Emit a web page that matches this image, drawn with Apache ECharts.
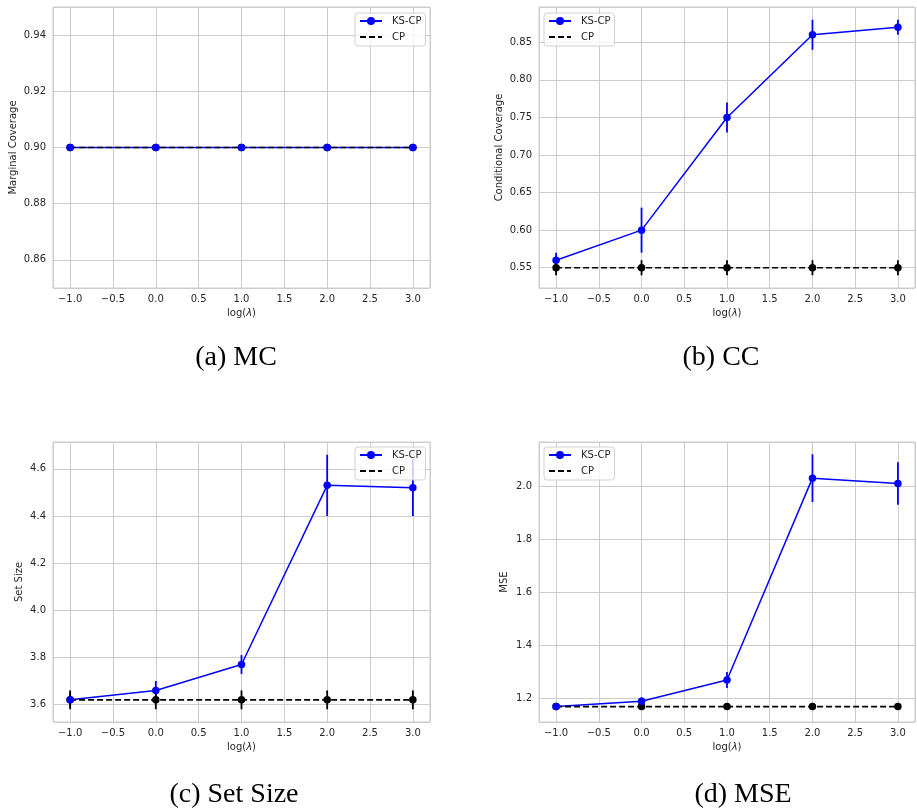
<!DOCTYPE html>
<html>
<head>
<meta charset="utf-8">
<script src="https://cdn.jsdelivr.net/npm/echarts@6/dist/echarts.min.js"></script>
<style>
html, body { margin: 0; padding: 0; background: #ffffff; }
#chart { width: 917px; height: 809px; }
</style>
</head>
<body>
<div id="chart"></div>
<script>
// ---- data ----
const lambdas = [-1, 0, 1, 2, 3];

const mcKs = [0.90, 0.90, 0.90, 0.90, 0.90];
const mcKsErr = [0, 0, 0, 0, 0];
const mcCp = [0.90, 0.90, 0.90, 0.90, 0.90];
const mcCpErr = [0, 0, 0, 0, 0];

const ccKs = [0.56, 0.60, 0.75, 0.86, 0.87];
const ccKsErr = [0.01, 0.03, 0.02, 0.02, 0.01];
const ccCp = [0.55, 0.55, 0.55, 0.55, 0.55];
const ccCpErr = [0.01, 0.01, 0.01, 0.01, 0.01];

const ssKs = [3.62, 3.66, 3.77, 4.53, 4.52];
const ssKsErr = [0.03, 0.04, 0.04, 0.13, 0.12];
const ssCp = [3.62, 3.62, 3.62, 3.62, 3.62];
const ssCpErr = [0.04, 0.04, 0.04, 0.04, 0.04];

const mseKs = [1.17, 1.19, 1.27, 2.03, 2.01];
const mseKsErr = [0.005, 0.015, 0.03, 0.09, 0.08];
const mseCp = [1.17, 1.17, 1.17, 1.17, 1.17];
const mseCpErr = [0, 0, 0, 0, 0];

const yNames = ['Marginal Coverage', 'Conditional Coverage', 'Set Size', 'MSE'];
const captions = ['(a) MC', '(b) CC', '(c) Set Size', '(d) MSE'];
const seriesNames = ['KS-CP', 'CP'];

// ---- layout / style ----
const panels = [
  { ks: mcKs, ksErr: mcKsErr, cp: mcCp, cpErr: mcCpErr,
    grid: { left: 53, top: 7, width: 377, height: 281 },
    yMin: 0.85, yMax: 0.95, yStep: 0.02, yDec: 2, nameGap: 35,
    legend: { left: 355, top: 13 }, cap: [236, 358] },
  { ks: ccKs, ksErr: ccKsErr, cp: ccCp, cpErr: ccCpErr,
    grid: { left: 539, top: 7, width: 376, height: 281 },
    yMin: 0.523, yMax: 0.897, yStep: 0.05, yDec: 2, nameGap: 35,
    legend: { left: 544, top: 13 }, cap: [721, 358] },
  { ks: ssKs, ksErr: ssKsErr, cp: ssCp, cpErr: ssCpErr,
    grid: { left: 53, top: 442, width: 377, height: 280 },
    yMin: 3.526, yMax: 4.714, yStep: 0.2, yDec: 1, nameGap: 29,
    legend: { left: 355, top: 447 }, cap: [234, 795] },
  { ks: mseKs, ksErr: mseKsErr, cp: mseCp, cpErr: mseCpErr,
    grid: { left: 539, top: 442, width: 376, height: 280 },
    yMin: 1.112, yMax: 2.166, yStep: 0.2, yDec: 1, nameGap: 30,
    legend: { left: 544, top: 447 }, cap: [743, 795] }
];

const TXT = '#262626';
const GRIDC = '#cccccc';
const BLUE = '#0000ff';
const FONT = 'DejaVu Sans';

function triples(ys, errs) {
  return lambdas.map((x, i) => [x, ys[i], errs[i]]);
}
function fmtMinus(v, d) {
  const s = Math.abs(v).toFixed(d);
  return (v < 0 ? '\u2212' : '') + s;
}
function errSeries(idx, data, color) {
  return {
    type: 'custom', name: 'err' + idx + color, xAxisIndex: idx, yAxisIndex: idx,
    data: data, encode: { x: 0, y: 1 }, silent: true,
    renderItem: function (params, api) {
      const x = api.value(0), y = api.value(1), e = api.value(2);
      if (!e) return null;
      const p1 = api.coord([x, y - e]);
      const p2 = api.coord([x, y + e]);
      return { type: 'line', shape: { x1: p1[0], y1: p1[1], x2: p2[0], y2: p2[1] },
               style: { stroke: color, lineWidth: 1.8 } };
    }
  };
}

const grids = [], xAxes = [], yAxes = [], series = [], legends = [], graphics = [];
panels.forEach((p, i) => {
  grids.push(Object.assign({ show: true, borderColor: GRIDC, borderWidth: 1, containLabel: false }, p.grid));
  xAxes.push({
    type: 'value', gridIndex: i, min: -1.2, max: 3.2, minInterval: 0.5, maxInterval: 0.5,
    axisLine: { show: false }, axisTick: { show: false },
    axisLabel: { color: TXT, fontFamily: FONT, fontSize: 10, margin: 6,
                 showMinLabel: false, showMaxLabel: false,
                 formatter: v => fmtMinus(v, 1) },
    splitLine: { show: true, lineStyle: { color: GRIDC, width: 1 } },
    name: '{a|log(}{b|\u03bb}{a|)}', nameLocation: 'middle', nameGap: 20,
    nameTextStyle: { rich: { a: { color: TXT, fontFamily: FONT, fontSize: 10 },
                             b: { color: TXT, fontFamily: FONT, fontSize: 10, fontStyle: 'italic' } } }
  });
  yAxes.push({
    type: 'value', gridIndex: i, min: p.yMin, max: p.yMax, minInterval: p.yStep, maxInterval: p.yStep,
    axisLine: { show: false }, axisTick: { show: false },
    axisLabel: { color: TXT, fontFamily: FONT, fontSize: 10, margin: 7,
                 showMinLabel: false, showMaxLabel: false,
                 formatter: v => fmtMinus(v, p.yDec) },
    splitLine: { show: true, lineStyle: { color: GRIDC, width: 1 } },
    name: yNames[i], nameLocation: 'middle', nameGap: p.nameGap,
    nameTextStyle: { color: TXT, fontFamily: FONT, fontSize: 10 }
  });
  // KS-CP
  series.push(errSeries(i, triples(p.ks, p.ksErr), BLUE));
  series.push({
    type: 'line', name: seriesNames[0], xAxisIndex: i, yAxisIndex: i,
    data: triples(p.ks, p.ksErr), encode: { x: 0, y: 1 },
    symbol: 'circle', symbolSize: 7.5, showSymbol: true,
    lineStyle: { color: BLUE, width: 1.5 }, itemStyle: { color: BLUE }
  });
  // CP
  series.push({
    type: 'line', name: seriesNames[1], xAxisIndex: i, yAxisIndex: i,
    data: triples(p.cp, p.cpErr), encode: { x: 0, y: 1 },
    symbol: 'none', showSymbol: false,
    lineStyle: { color: '#000000', width: 1.6, type: [6, 3] }, itemStyle: { color: '#000000' }
  });
  series.push(errSeries(i, triples(p.cp, p.cpErr), '#000000'));
  series.push({
    type: 'scatter', name: 'CPpts' + i, xAxisIndex: i, yAxisIndex: i,
    data: triples(p.cp, p.cpErr), encode: { x: 0, y: 1 },
    symbol: 'circle', symbolSize: 7.5, itemStyle: { color: '#000000', opacity: 1 }
  });
  legends.push({
    data: [{ name: seriesNames[0] },
           { name: seriesNames[1], itemStyle: { opacity: 0 } }],
    left: p.legend.left, top: p.legend.top, orient: 'vertical',
    selectedMode: false, itemWidth: 22, itemHeight: 10, itemGap: 6,
    padding: [3, 4, 4, 4], borderColor: 'rgba(204,204,204,0.9)', borderWidth: 1, borderRadius: 3,
    backgroundColor: 'rgba(255,255,255,0.8)',
    textStyle: { color: TXT, fontFamily: FONT, fontSize: 10, padding: [0, 0, 0, 5] }
  });
  graphics.push({
    type: 'text', x: p.cap[0], y: p.cap[1],
    style: { text: captions[i], fill: '#000000', font: '28px "Liberation Serif"',
             textAlign: 'center', textVerticalAlign: 'middle' }
  });
});

const chart = echarts.init(document.getElementById('chart'), null, { renderer: 'canvas' });
chart.setOption({
  animation: false,
  backgroundColor: '#ffffff',
  grid: grids, xAxis: xAxes, yAxis: yAxes, series: series, legend: legends,
  graphic: graphics
});
</script>
</body>
</html>
